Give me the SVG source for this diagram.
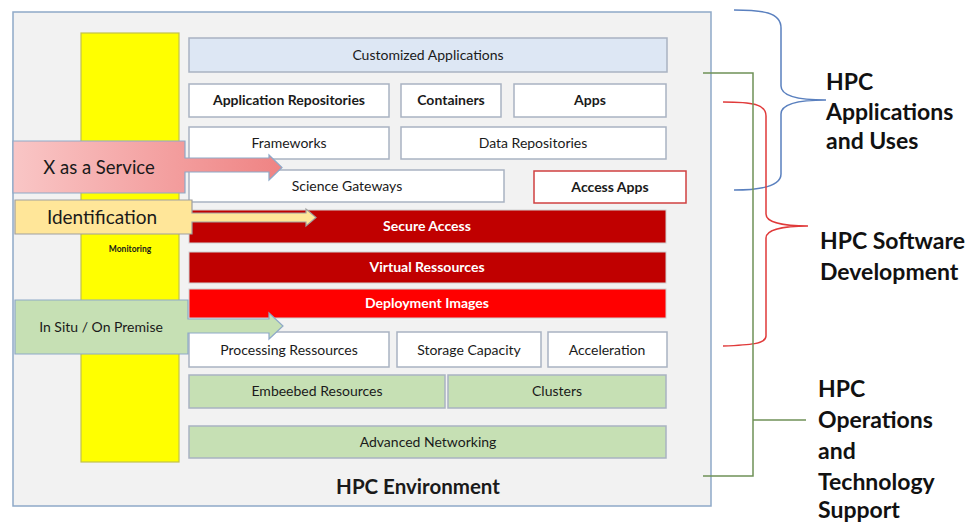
<svg xmlns="http://www.w3.org/2000/svg" width="966" height="522" viewBox="0 0 966 522">
  <defs>
    <linearGradient id="xaasFill" x1="0" y1="0" x2="1" y2="0">
      <stop offset="0" stop-color="#f9c6c6"/>
      <stop offset="1" stop-color="#ef8383"/>
    </linearGradient>
    <style>
      text { font-family: Lato, "Liberation Sans", sans-serif; fill: #1a1a1a; }
      .box { fill: #ffffff; stroke: #a9b3c2; stroke-width: 1.5; }
      .sky { fill: #dde7f4; stroke: #a9b3c2; stroke-width: 1.5; }
      .green { fill: #c6e0b4; stroke: #a9b3c2; stroke-width: 1.5; }
      .dark { fill: #c00000; stroke: #d0d0d0; stroke-width: 1; }
      .bright { fill: #ff0000; stroke: #d0d0d0; stroke-width: 1; }
      .lbl { font-size: 14px; text-anchor: middle; }
      .b { font-weight: bold; }
      .w { fill: #ffffff; }
      .side { font-size: 23px; font-weight: bold; fill: #111; }
    </style>
  </defs>

  <!-- environment frame -->
  <g id="hpc-environment">
    <rect x="13" y="12" width="698" height="494" fill="#f2f2f2" stroke="#8ea9c8" stroke-width="1.5"/>
    <text x="418" y="494" font-size="20.5" font-weight="bold" text-anchor="middle" fill="#111">HPC Environment</text>
  </g>

  <!-- monitoring column -->
  <g id="monitoring">
    <rect x="81" y="33" width="98" height="429" fill="#ffff00" stroke="#c2c24a" stroke-width="1.2"/>
    <text x="130" y="252" font-size="8.5" font-weight="bold" text-anchor="middle">Monitoring</text>
  </g>

  <!-- layer stack -->
  <g id="customized-applications">
    <rect class="sky" x="189" y="38" width="478" height="34"/>
    <text class="lbl" x="428" y="60">Customized Applications</text>
  </g>
  <g id="application-repositories">
    <rect class="box" x="189" y="84" width="200" height="33"/>
    <text class="lbl b" x="289" y="105">Application Repositories</text>
  </g>
  <g id="containers">
    <rect class="box" x="401" y="84" width="100" height="33"/>
    <text class="lbl b" x="451" y="105">Containers</text>
  </g>
  <g id="apps">
    <rect class="box" x="514" y="84" width="152" height="33"/>
    <text class="lbl b" x="590" y="105">Apps</text>
  </g>
  <g id="frameworks">
    <rect class="box" x="189" y="127" width="200" height="32"/>
    <text class="lbl" x="289" y="148">Frameworks</text>
  </g>
  <g id="data-repositories">
    <rect class="box" x="401" y="127" width="265" height="32"/>
    <text class="lbl" x="533" y="148">Data Repositories</text>
  </g>
  <g id="science-gateways">
    <rect class="box" x="189" y="170" width="315" height="32"/>
    <text class="lbl" x="347" y="191">Science Gateways</text>
  </g>
  <g id="access-apps">
    <rect x="534" y="171" width="152" height="32" fill="#ffffff" stroke="#d04040" stroke-width="1.5"/>
    <text class="lbl b" x="610" y="192">Access Apps</text>
  </g>
  <g id="secure-access">
    <rect class="dark" x="189" y="210" width="477" height="33"/>
    <text class="lbl b w" x="427" y="231">Secure Access</text>
  </g>
  <g id="virtual-ressources">
    <rect class="dark" x="189" y="252" width="477" height="31"/>
    <text class="lbl b w" x="427" y="272">Virtual Ressources</text>
  </g>
  <g id="deployment-images">
    <rect class="bright" x="189" y="289" width="477" height="29"/>
    <text class="lbl b w" x="427" y="308">Deployment Images</text>
  </g>
  <g id="processing-ressources">
    <rect class="box" x="189" y="332" width="200" height="35"/>
    <text class="lbl" x="289" y="355">Processing Ressources</text>
  </g>
  <g id="storage-capacity">
    <rect class="box" x="397" y="332" width="144" height="35"/>
    <text class="lbl" x="469" y="355">Storage Capacity</text>
  </g>
  <g id="acceleration">
    <rect class="box" x="548" y="332" width="119" height="35"/>
    <text class="lbl" x="607" y="355">Acceleration</text>
  </g>
  <g id="embeebed-resources">
    <rect class="green" x="189" y="375" width="256" height="33"/>
    <text class="lbl" x="317" y="396">Embeebed Resources</text>
  </g>
  <g id="clusters">
    <rect class="green" x="448" y="375" width="218" height="33"/>
    <text class="lbl" x="557" y="396">Clusters</text>
  </g>
  <g id="advanced-networking">
    <rect class="green" x="189" y="426" width="477" height="32"/>
    <text class="lbl" x="428" y="447">Advanced Networking</text>
  </g>

  <!-- delivery models: callouts with arrows -->
  <g id="x-as-a-service">
    <path d="M13,141 H185 V158 H269 V155 L282,167.5 L269,180 V172 H185 V193 H13 Z" fill="url(#xaasFill)" stroke="#8ea9c8" stroke-width="1.2"/>
    <text x="99" y="174" font-size="18.5" text-anchor="middle">X as a Service</text>
  </g>
  <g id="identification">
    <path d="M15,200 H192 V213 H306 V209 L316,217.5 L306,226 V222 H192 V234 H15 Z" fill="#ffe699" stroke="#a0a0a0" stroke-width="1.2"/>
    <text x="102" y="224" font-size="19" text-anchor="middle">Identification</text>
  </g>
  <g id="in-situ">
    <path d="M15,300 H188 V319 H269 V313 L283,326 L269,339 V333 H188 V354 H15 Z" fill="#c6e0b4" stroke="#8ea9c8" stroke-width="1.2"/>
    <text x="101" y="332" font-size="14" text-anchor="middle">In Situ / On Premise</text>
  </g>

  <!-- scope brackets -->
  <g id="connectors" fill="none" stroke-width="1.5">
    <path d="M734,10 C762,10 781,12 781,28 V86 C781,96 800,100 826,100 C800,100 781,104 781,114 V174 C781,186 762,190 734,190" stroke="#5a80bf"/>
    <path d="M723,102 C752,102 766,104 766,116 V214 C766,222 782,226 808,226 C782,226 766,230 766,238 V336 C766,344 750,345 723,346" stroke="#e03a3a"/>
    <path d="M703,73 H753 V476 H703" stroke="#6f9157"/>
    <path d="M753,420 H806" stroke="#6f9157"/>
  </g>

  <!-- scope labels -->
  <g id="scope-applications">
    <text class="side" x="826" y="90">HPC</text>
    <text class="side" x="826" y="120">Applications</text>
    <text class="side" x="826" y="149">and Uses</text>
  </g>
  <g id="scope-software">
    <text class="side" x="820" y="249">HPC Software</text>
    <text class="side" x="820" y="280">Development</text>
  </g>
  <g id="scope-operations">
    <text class="side" x="818" y="397">HPC</text>
    <text class="side" x="818" y="428">Operations</text>
    <text class="side" x="818" y="459">and</text>
    <text class="side" x="818" y="490">Technology</text>
    <text class="side" x="818" y="518">Support</text>
  </g>
</svg>
